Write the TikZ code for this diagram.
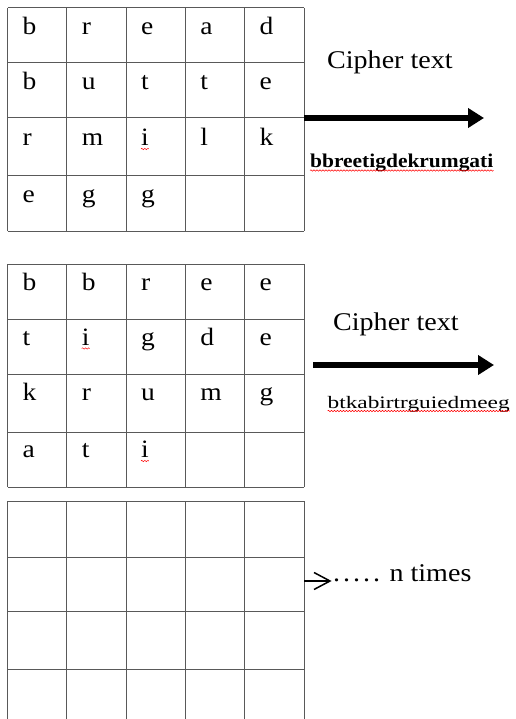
\documentclass[tikz,border=0pt]{standalone}
\usepackage{fontspec}
\setmainfont[FakeStretch=1.1]{Liberation Serif}
\usetikzlibrary{arrows.meta,decorations.pathmorphing}
\begin{document}
\begin{tikzpicture}[x=1pt,y=-1pt,
  gridline/.style={draw=black!65, line width=1pt},
  cell/.style={anchor=base west, inner sep=0pt, font=\fontsize{25}{25}\selectfont},
  lbl/.style={anchor=base west, inner sep=0pt, font=\fontsize{25.5}{25.5}\selectfont},
  bigarrow/.style={draw=black, line width=5.5pt, -{Triangle[length=16pt,width=19pt]}},
  thinline/.style={draw=black, line width=1.5pt},
  spell/.style={draw=red, line width=0.5pt, decorate, decoration={snake, segment length=3pt, amplitude=0.7pt}}
]
\useasboundingbox (0,0) rectangle (515,719);
\clip (0,0) rectangle (515,719);

% grid 1
\foreach \y in {8,63,118,176,231} \draw[gridline] (7.5,\y) -- (304,\y);
\foreach \x in {7.5,66.8,126,185.5,244.8,304} \draw[gridline] (\x,8) -- (\x,231);
% grid 2
\foreach \y in {264,319,374,432,487} \draw[gridline] (7.5,\y) -- (304,\y);
\foreach \x in {7.5,66.8,126,185.5,244.8,304} \draw[gridline] (\x,264) -- (\x,487);
% grid 3
\foreach \y in {501,557,611,669} \draw[gridline] (7.5,\y) -- (304,\y);
\foreach \x in {7.5,66.8,126,185.5,244.8,304} \draw[gridline] (\x,501) -- (\x,730);

% letters grid 1
\foreach \yy/\rowtext [count=\r] in {35/{b,r,e,a,d},90/{b,u,t,t,e},146/{r,m,i,l,k},203/{e,g,g}}{
  \foreach \ch [count=\c] in \rowtext {
    \node[cell] (ga-\r-\c) at ({22.5+(\c-1)*59.2},\yy) {\ch};
  }
}
% letters grid 2
\foreach \yy/\rowtext [count=\r] in {290/{b,b,r,e,e},345/{t,i,g,d,e},400/{k,r,u,m,g},457/{a,t,i}}{
  \foreach \ch [count=\c] in \rowtext {
    \node[cell] (gb-\r-\c) at ({22.5+(\c-1)*59.2},\yy) {\ch};
  }
}
\draw[spell] ([yshift=-3pt]ga-3-3.base west) -- ([yshift=-3pt]ga-3-3.base east);
\draw[spell] ([yshift=-3.5pt]gb-2-2.base west) -- ([yshift=-3.5pt]gb-2-2.base east);
\draw[spell] ([yshift=-4pt]gb-4-3.base west) -- ([yshift=-4pt]gb-4-3.base east);

% first output
\node[lbl] (ct1) at (327,68.5) {Cipher text};
\coordinate (a1s) at (304,118);
\coordinate (a1e) at (484,118);
\draw[bigarrow] (a1s) -- (a1e);
\node[anchor=base west, inner sep=0pt, font=\fontsize{19.5}{19.5}\selectfont\bfseries] (c1) at (310,167.5) {bbreetigdekrumgati};
\draw[spell] ([yshift=-3pt]c1.base west) -- ([yshift=-3pt]c1.base east);

% second output
\node[lbl] (ct2) at (333,330) {Cipher text};
\coordinate (a2s) at (313,365);
\coordinate (a2e) at (494,365);
\draw[bigarrow] (a2s) -- (a2e);
\node[anchor=base west, inner sep=0pt, font=\fontsize{17.5}{17.5}\selectfont] (c2) at (327.5,408) {\resizebox{182pt}{\height}{btkabirtrguiedmeeg}};
\draw[spell] ([yshift=-3pt]c2.base west) -- ([yshift=-3pt]c2.base east);

% third output
\coordinate (a3s) at (304,581);
\coordinate (a3e) at (330,581);
\draw[thinline] (a3s) -- (a3e);
\draw[thinline, line join=miter] (a3e) ++(-16,-8.5) -- (a3e) -- ++(-16,8.5);
\node[lbl] (nt) at (333,581) {.\kern3pt.\kern3pt.\kern3pt.\kern3pt. n times};
\end{tikzpicture}
\end{document}
